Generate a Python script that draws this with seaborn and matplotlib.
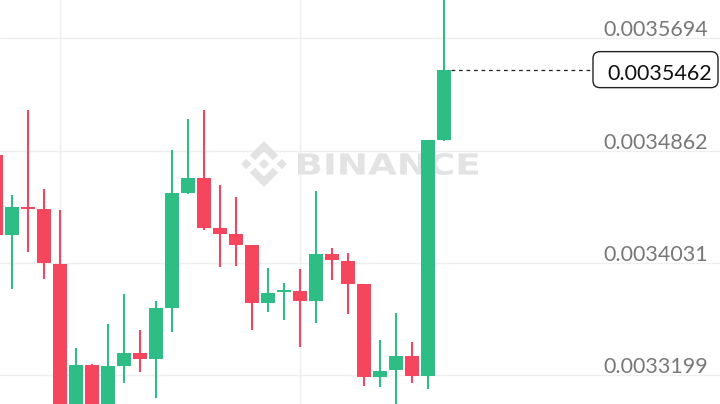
import numpy as np
import pandas as pd
import seaborn as sns
import matplotlib
matplotlib.use("Agg")
import matplotlib.pyplot as plt
from matplotlib.path import Path
from matplotlib.patches import PathPatch, FancyBboxPatch
from matplotlib.textpath import TextPath
from matplotlib.font_manager import FontProperties
from matplotlib import transforms

# ---------------- data ----------------
opens = [0.0034829, 0.0034237, 0.0034444, 0.0034429, 0.0034022, 0.0032930, 0.0033273,
         0.0032940, 0.0033266, 0.0033362, 0.0033318, 0.0033696, 0.0034548, 0.0034659,
         0.0034288, 0.0034244, 0.0034162, 0.0033733, 0.0033814, 0.0033821, 0.0033747,
         0.0034096, 0.0034044, 0.0033873, 0.0033184, 0.0033236, 0.0033340, 0.0033192,
         0.0034940]
closes = [0.0034237, 0.0034444, 0.0034429, 0.0034029, 0.0032930, 0.0033273, 0.0032940,
          0.0033266, 0.0033362, 0.0033318, 0.0033696, 0.0034548, 0.0034659, 0.0034288,
          0.0034244, 0.0034162, 0.0033733, 0.0033807, 0.0033822, 0.0033747, 0.0034096,
          0.0034051, 0.0033873, 0.0033184, 0.0033229, 0.0033340, 0.0033192, 0.0034940,
          0.0035462]
highs = [0.0034850, 0.0034533, 0.0035163, 0.0034577, 0.0034422, 0.0033399, 0.0033280,
         0.0033577, 0.0033799, 0.0033533, 0.0033747, 0.0034866, 0.0035096, 0.0035163,
         0.0034607, 0.0034518, 0.0034162, 0.0033992, 0.0033881, 0.0033984, 0.0034562,
         0.0034140, 0.0034103, 0.0033873, 0.0033458, 0.0033658, 0.0033444, 0.0034940,
         0.0036050]
lows = [0.0034200, 0.0033836, 0.0034110, 0.0033910, 0.0032900, 0.0032900, 0.0032920,
        0.0032920, 0.0033140, 0.0033221, 0.0033029, 0.0033518, 0.0034540, 0.0034274,
        0.0033999, 0.0034007, 0.0033533, 0.0033666, 0.0033607, 0.0033407, 0.0033584,
        0.0033903, 0.0033651, 0.0033118, 0.0033110, 0.0032950, 0.0033140, 0.0033095,
        0.0034930]
tick_values = [0.0035694, 0.0034862, 0.0034031, 0.0033199]
tick_labels = ["0.0035694", "0.0034862", "0.0034031", "0.0033199"]
last_price = 0.0035462
last_label = "0.0035462"
watermark = "BINANCE"

GREEN = "#2ebd85"
RED = "#f6465d"

df = pd.DataFrame({"open": opens, "close": closes, "high": highs, "low": lows})
df["idx"] = np.arange(len(df))
df["up"] = df["close"] >= df["open"]
df["color"] = np.where(df["up"], GREEN, RED)
df["bottom"] = df[["open", "close"]].min(axis=1)
df["height"] = (df["close"] - df["open"]).abs().clip(lower=0.0000012)

sns.set_theme(style="white")
plt.rcParams["font.family"] = ["Lato", "DejaVu Sans"]

W, H = 720, 404
fig = plt.figure(figsize=(W / 100, H / 100), dpi=100)
ax = fig.add_axes([0, 0, 1, 1])
ax.set_facecolor("white")
ident = transforms.IdentityTransform()

# grid
for v in tick_values:
    ax.axhline(v, color="#efefef", lw=1.0, zorder=0)
for gx in [4, 19]:
    ax.axvline(gx, color="#efefef", lw=1.0, zorder=0)

# watermark (pixel coordinates)
logo_paths = [
    [(38.73, 53.2), (63.3, 28.63), (87.89, 53.22), (102.19, 38.92), (63.3, 0), (24.42, 38.9)],
    [(0, 63.31), (14.3, 49.01), (28.6, 63.31), (14.3, 77.61)],
    [(38.73, 73.42), (63.3, 97.99), (87.89, 73.4), (102.19, 87.7), (63.3, 126.61), (24.42, 87.72)],
    [(98.01, 63.31), (112.31, 49.01), (126.61, 63.31), (112.31, 77.61)],
    [(77.81, 63.3), (63.3, 48.78), (48.79, 63.28), (63.3, 77.8)],
]
s = 46 / 126.61
x0, ytop = 241, 141
wm_col = "#e3e3e3"
for poly in logo_paths:
    pts = [(x0 + px * s, H - (ytop + py * s)) for px, py in poly]
    pts.append(pts[0])
    codes = [Path.MOVETO] + [Path.LINETO] * (len(pts) - 2) + [Path.CLOSEPOLY]
    ax.add_patch(PathPatch(Path(pts, codes), transform=ident, facecolor=wm_col,
                           edgecolor="none", zorder=1))
fp = FontProperties(family="DejaVu Sans", weight="bold")
tp = TextPath((0, 0), watermark, size=100, prop=fp)
bb = tp.get_extents()
tx0, tx1, ty0, ty1 = 298, 478, 153, 175
tr = (transforms.Affine2D().translate(-bb.x0, -bb.y0)
      .scale((tx1 - tx0) / bb.width, (ty1 - ty0) / bb.height)
      .translate(tx0, H - ty1))
tpath = tr.transform_path(tp)
ax.add_patch(PathPatch(tpath, transform=ident, facecolor=wm_col, edgecolor="none", zorder=1))

# candles
ax.vlines(df["idx"], df["low"], df["high"], colors=df["color"], lw=1.5, zorder=2)
ax.bar(df["idx"], df["height"], bottom=df["bottom"], width=0.875, color=df["color"],
       linewidth=0, zorder=3)

ax.set_xlim(0.25, 45.25)
ax.set_ylim(0.0032984, 0.0035978)
ax.set_xticks([])
ax.set_yticks([])
for sp in ax.spines.values():
    sp.set_visible(False)

# y labels
lab_tr = transforms.offset_copy(ax.get_yaxis_transform(), fig=fig, x=-12, y=2, units="dots")
for v, t in zip(tick_values, tick_labels):
    ax.text(1.0, v, t, transform=lab_tr, ha="right", va="baseline", fontsize=15.5,
            color="#787878", zorder=4)

# last price line + tag
last_i = len(df) - 1
ax.plot([last_i + 0.45, 37.1], [last_price, last_price], color="#222222", lw=0.9,
        dashes=(3, 3), zorder=4)
py = ax.transData.transform((0, last_price))[1]
box = FancyBboxPatch((593, py - 18), 125, 36, boxstyle="round,pad=0,rounding_size=7",
                     transform=ident, facecolor="white", edgecolor="#222222", lw=1.0,
                     zorder=5, clip_on=False)
ax.add_patch(box)
ax.text(1.0, last_price, last_label, transform=transforms.offset_copy(
            ax.get_yaxis_transform(), fig=fig, x=-8, y=-10, units="dots"),
        ha="right", va="baseline", fontsize=15.5, color="#111111", zorder=6)

fig.savefig("out.png", dpi=100)
